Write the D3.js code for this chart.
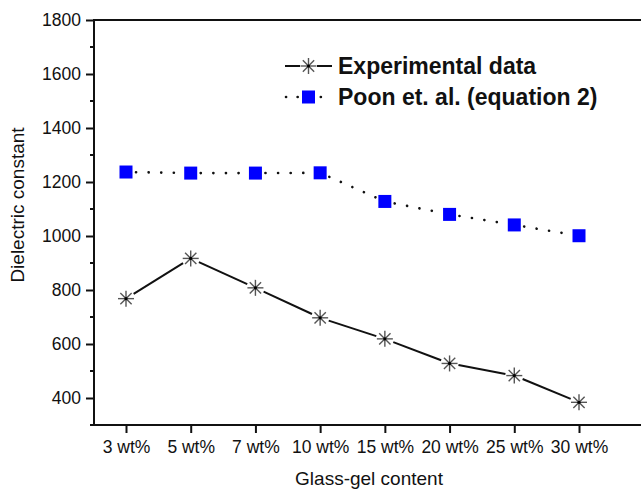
<!DOCTYPE html>
<html>
<head>
<meta charset="utf-8">
<script src="https://cdn.jsdelivr.net/npm/d3@7"></script>
<style>
  body { margin: 0; background: #fff; }
  svg text { font-family: "Liberation Sans", Arial, sans-serif; fill: #111; }
</style>
</head>
<body>
<div id="chart"></div>
<script>
// data
var categories = ["3 wt%", "5 wt%", "7 wt%", "10 wt%", "15 wt%", "20 wt%", "25 wt%", "30 wt%"];
var experimental = [768, 917, 808, 697, 619, 528, 483, 384];
var poon = [1237, 1233, 1233, 1234, 1128, 1080, 1041, 1001];
var yTicks = [400, 600, 800, 1000, 1200, 1400, 1600, 1800];
var yMinor = [300, 500, 700, 900, 1100, 1300, 1500, 1700];

var W = 641, H = 490;
var frame = {left: 94, top: 20, right: 646, bottom: 425};

var svg = d3.select("#chart").append("svg")
    .attr("width", W)
    .attr("height", H);

var x = d3.scalePoint()
    .domain(categories)
    .range([126, 579]);

var y = d3.scaleLinear()
    .domain([300, 1800])
    .range([frame.bottom, frame.top]);

// frame (right side runs off the picture)
svg.append("rect")
    .attr("x", frame.left)
    .attr("y", frame.top)
    .attr("width", frame.right - frame.left)
    .attr("height", frame.bottom - frame.top)
    .attr("fill", "none")
    .attr("stroke", "#111")
    .attr("stroke-width", 2);

// y axis
var yAxis = svg.append("g")
    .attr("transform", "translate(" + frame.left + ",0)")
    .call(d3.axisLeft(y).tickValues(yTicks).tickFormat(d3.format("d")).tickSize(8).tickPadding(5));
yAxis.select(".domain").remove();
yAxis.selectAll(".tick line").attr("stroke", "#111").attr("stroke-width", 2);
yAxis.selectAll(".tick text").style("font-size", "17.5px").attr("fill", "#111");

svg.append("g").selectAll("line")
  .data(yMinor)
  .enter().append("line")
    .attr("x1", frame.left - 4)
    .attr("x2", frame.left)
    .attr("y1", function(d) { return y(d); })
    .attr("y2", function(d) { return y(d); })
    .attr("stroke", "#111")
    .attr("stroke-width", 2);

// x axis
var xAxis = svg.append("g")
    .attr("transform", "translate(0," + frame.bottom + ")")
    .call(d3.axisBottom(x).tickSize(8).tickPadding(8));
xAxis.select(".domain").remove();
xAxis.selectAll(".tick line").attr("stroke", "#111").attr("stroke-width", 2);
xAxis.selectAll(".tick text").style("font-size", "17.5px").attr("fill", "#111");

// axis titles
svg.append("text")
    .attr("transform", "translate(24,205) rotate(-90)")
    .attr("text-anchor", "middle")
    .style("font-size", "19px")
    .text("Dielectric constant");

svg.append("text")
    .attr("x", 369)
    .attr("y", 485)
    .attr("text-anchor", "middle")
    .style("font-size", "19px")
    .text("Glass-gel content");

// segments between markers with a small gap (Origin style)
function segments(values, gap) {
  var out = [];
  for (var i = 0; i < values.length - 1; i++) {
    var x1 = x(categories[i]), y1 = y(values[i]);
    var x2 = x(categories[i + 1]), y2 = y(values[i + 1]);
    var dx = x2 - x1, dy = y2 - y1, len = Math.sqrt(dx * dx + dy * dy);
    out.push({
      x1: x1 + dx / len * gap, y1: y1 + dy / len * gap,
      x2: x2 - dx / len * gap, y2: y2 - dy / len * gap
    });
  }
  return out;
}

function asterisk(g, cx, cy, r) {
  for (var k = 0; k < 4; k++) {
    var a = k * Math.PI / 4;
    g.append("line")
      .attr("x1", cx - r * Math.cos(a)).attr("y1", cy - r * Math.sin(a))
      .attr("x2", cx + r * Math.cos(a)).attr("y2", cy + r * Math.sin(a))
      .attr("stroke", "#555")
      .attr("stroke-width", 1.4);
  }
  g.append("circle").attr("cx", cx).attr("cy", cy).attr("r", 1.6).attr("fill", "#000");
}

// Poon et al. dotted line + squares
svg.append("g").selectAll("line")
  .data(segments(poon, 10))
  .enter().append("line")
    .attr("x1", function(d) { return d.x1; })
    .attr("y1", function(d) { return d.y1; })
    .attr("x2", function(d) { return d.x2; })
    .attr("y2", function(d) { return d.y2; })
    .attr("stroke", "#111")
    .attr("stroke-width", 2.6)
    .attr("stroke-linecap", "round")
    .attr("stroke-dasharray", "0.1,12.5");

svg.append("g").selectAll("rect")
  .data(poon)
  .enter().append("rect")
    .attr("x", function(d, i) { return x(categories[i]) - 6.5; })
    .attr("y", function(d) { return y(d) - 6.5; })
    .attr("width", 13)
    .attr("height", 13)
    .attr("fill", "#0000ff");

// experimental solid line + asterisks
svg.append("g").selectAll("line")
  .data(segments(experimental, 9))
  .enter().append("line")
    .attr("x1", function(d) { return d.x1; })
    .attr("y1", function(d) { return d.y1; })
    .attr("x2", function(d) { return d.x2; })
    .attr("y2", function(d) { return d.y2; })
    .attr("stroke", "#111")
    .attr("stroke-width", 2);

var stars = svg.append("g");
experimental.forEach(function(d, i) {
  asterisk(stars, x(categories[i]), y(d), 8);
});

// legend
var legend = svg.append("g");
legend.append("line")
    .attr("x1", 285).attr("x2", 300).attr("y1", 66).attr("y2", 66)
    .attr("stroke", "#111").attr("stroke-width", 2);
legend.append("line")
    .attr("x1", 317).attr("x2", 332).attr("y1", 66).attr("y2", 66)
    .attr("stroke", "#111").attr("stroke-width", 2);
asterisk(legend, 308.5, 66, 8);
legend.append("text")
    .attr("x", 338).attr("y", 74)
    .style("font-size", "23px").style("font-weight", "bold")
    .text("Experimental data");

legend.append("line")
    .attr("x1", 286).attr("x2", 332).attr("y1", 97).attr("y2", 97)
    .attr("stroke", "#111").attr("stroke-width", 2.6)
    .attr("stroke-linecap", "round")
    .attr("stroke-dasharray", "0.1,11.5");
legend.append("rect")
    .attr("x", 302).attr("y", 90.5).attr("width", 13).attr("height", 13)
    .attr("fill", "#0000ff").attr("stroke", "#fff").attr("stroke-width", 3)
    .attr("paint-order", "stroke");
legend.append("text")
    .attr("x", 338).attr("y", 105)
    .style("font-size", "23px").style("font-weight", "bold")
    .text("Poon et. al. (equation 2)");
</script>
</body>
</html>
